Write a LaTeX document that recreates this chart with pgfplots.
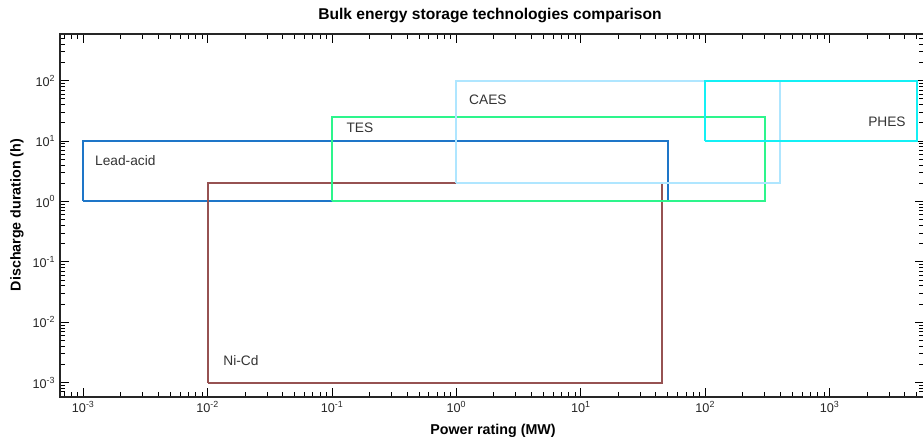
\documentclass[border=0pt]{standalone}
\usepackage{fontspec}
\setmainfont{Liberation Sans}
\usepackage{pgfplots}
\pgfplotsset{compat=1.18}
\definecolor{leadc}{RGB}{30,118,200}
\definecolor{nicdc}{RGB}{150,82,82}
\definecolor{tesc}{RGB}{45,245,140}
\definecolor{caesc}{RGB}{175,230,255}
\definecolor{phesc}{RGB}{20,240,245}
\begin{document}
\begin{tikzpicture}[x=0.75pt,y=0.75pt]
\path[use as bounding box] (0,0) rectangle (923,438);
\begin{axis}[
  at={(45pt,30.75pt)}, anchor=south west,
  scale only axis, width=648pt, height=272.25pt,
  xmode=log, ymode=log, log basis x=10, log basis y=10,
  xmin=6.5e-4, xmax=5730, ymin=5.77e-4, ymax=594,
  xtick={1e-3,1e-2,1e-1,1,10,100,1000},
  xticklabels={10\textsuperscript{-3},10\textsuperscript{-2},10\textsuperscript{-1},10\textsuperscript{0},10\textsuperscript{1},10\textsuperscript{2},10\textsuperscript{3}},
  ytick={1e-3,1e-2,1e-1,1,10,100},
  yticklabels={10\textsuperscript{-3},10\textsuperscript{-2},10\textsuperscript{-1},10\textsuperscript{0},10\textsuperscript{1},10\textsuperscript{2}},
  minor xtick={7e-4,8e-4,9e-4,
    2e-3,3e-3,4e-3,5e-3,6e-3,7e-3,8e-3,9e-3,
    2e-2,3e-2,4e-2,5e-2,6e-2,7e-2,8e-2,9e-2,
    0.2,0.3,0.4,0.5,0.6,0.7,0.8,0.9,
    2,3,4,5,6,7,8,9,
    20,30,40,50,60,70,80,90,
    200,300,400,500,600,700,800,900,
    2000,3000,4000,5000},
  minor ytick={6e-4,7e-4,8e-4,9e-4,
    2e-3,3e-3,4e-3,5e-3,6e-3,7e-3,8e-3,9e-3,
    2e-2,3e-2,4e-2,5e-2,6e-2,7e-2,8e-2,9e-2,
    0.2,0.3,0.4,0.5,0.6,0.7,0.8,0.9,
    2,3,4,5,6,7,8,9,
    20,30,40,50,60,70,80,90,
    200,300,400,500},
  tick align=inside,
  major tick length=7pt, minor tick length=3.6pt,
  every tick/.style={black, line width=0.7pt},
  axis line style={line width=1pt, black!85},
  ticklabel style={font=\fontsize{9.5}{10}\selectfont, text=black!85},
  clip=false,
]
\addplot[leadc, line width=1.5pt, line join=miter] coordinates {(1e-3,1) (50,1) (50,10) (1e-3,10) (1e-3,1)};
\addplot[nicdc, line width=1.5pt, line join=miter] coordinates {(0.01,1e-3) (45,1e-3) (45,2) (0.01,2) (0.01,1e-3)};
\addplot[tesc, line width=1.5pt, line join=miter] coordinates {(0.1,1) (300,1) (300,25) (0.1,25) (0.1,1)};
\addplot[caesc, line width=1.5pt, line join=miter] coordinates {(1,2) (400,2) (400,100) (1,100) (1,2)};
\addplot[phesc, line width=1.5pt, line join=miter] coordinates {(100,10) (5000,10) (5000,100) (100,100) (100,10)};
\tikzset{boxlab/.style={inner sep=0pt, font=\fontsize{10.3}{12}\selectfont, text=black!80}}
\node[boxlab, anchor=west] at (axis cs:1.24e-3,4.8) {Lead-acid};
\node[boxlab, anchor=west] at (axis cs:0.0133,0.0023) {Ni-Cd};
\node[boxlab, anchor=west] at (axis cs:0.13,16.9) {TES};
\node[boxlab, anchor=west] at (axis cs:1.26,48) {CAES};
\node[boxlab, anchor=east] at (axis cs:4100,20.5) {PHES};
\end{axis}
\node[font=\bfseries\fontsize{11.7}{13}\selectfont] at (490,422) {Bulk energy storage technologies comparison};
\node[font=\bfseries\fontsize{10.7}{12}\selectfont] at (493,7) {Power rating (MW)};
\node[font=\bfseries\fontsize{10.7}{12}\selectfont, rotate=90] at (17,223) {Discharge duration (h)};
\end{tikzpicture}
\end{document}
